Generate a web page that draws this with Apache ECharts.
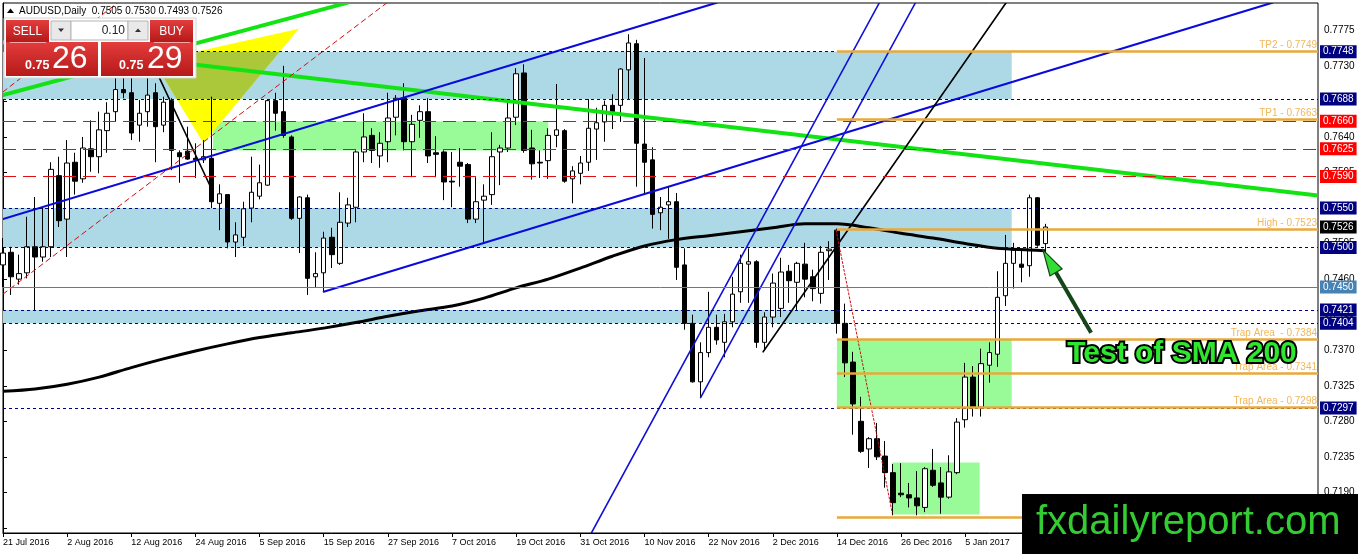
<!DOCTYPE html>
<html>
<head>
<meta charset="utf-8">
<title>AUDUSD Daily</title>
<script src="https://cdn.jsdelivr.net/npm/echarts@6.0.0/dist/echarts.min.js"></script>
<style>
html, body { margin: 0; padding: 0; background: #fff; }
#chart-container { width: 1358px; height: 554px; }
</style>
</head>
<body>
<div id="chart-container"></div>
<script>
const FONT = '"Liberation Sans", Arial, sans-serif';

// one label every 8 daily bars
const tickLabels = ['21 Jul 2016', '2 Aug 2016', '12 Aug 2016', '24 Aug 2016', '5 Sep 2016', '15 Sep 2016',
  '27 Sep 2016', '7 Oct 2016', '19 Oct 2016', '31 Oct 2016', '10 Nov 2016', '22 Nov 2016', '2 Dec 2016',
  '14 Dec 2016', '26 Dec 2016', '5 Jan 2017', '17 Jan 2017'];
const barSlots = 165; // bars + empty space on the right

const opens = [
  0.7478, 0.7494, 0.7460, 0.7468, 0.7501, 0.7488, 0.7501, 0.7591, 0.7536, 0.7608,
  0.7587, 0.7625, 0.7615, 0.7648, 0.7672, 0.7700, 0.7696, 0.7655, 0.7672, 0.7696,
  0.7655, 0.7686, 0.7620, 0.7622, 0.7613, 0.7611, 0.7613, 0.7556, 0.7567, 0.7507,
  0.7513, 0.7550, 0.7565, 0.7579, 0.7686, 0.7672, 0.7640, 0.7537, 0.7563, 0.7463,
  0.7468, 0.7513, 0.7480, 0.7531, 0.7551, 0.7621, 0.7642, 0.7616, 0.7634, 0.7665,
  0.7689, 0.7634, 0.7661, 0.7672, 0.7620, 0.7621, 0.7584, 0.7608, 0.7605, 0.7536,
  0.7560, 0.7567, 0.7621, 0.7626, 0.7665, 0.7721, 0.7626, 0.7608, 0.7610, 0.7642,
  0.7648, 0.7587, 0.7594, 0.7608, 0.7650, 0.7659, 0.7680, 0.7680, 0.7725, 0.7758,
  0.7631, 0.7611, 0.7544, 0.7554, 0.7558, 0.7478, 0.7404, 0.7330, 0.7367, 0.7399,
  0.7380, 0.7406, 0.7444, 0.7479, 0.7482, 0.7380, 0.7412, 0.7423, 0.7470, 0.7456,
  0.7479, 0.7463, 0.7442, 0.7496, 0.7522, 0.7404, 0.7355, 0.7280, 0.7245, 0.7258,
  0.7236, 0.7215, 0.7189, 0.7187, 0.7183, 0.7171, 0.7218, 0.7202, 0.7184, 0.7215,
  0.7282, 0.7336, 0.7298, 0.7351, 0.7365, 0.7439, 0.7480, 0.7479, 0.7477, 0.7563,
  0.7505];
const closes = [
  0.7493, 0.7463, 0.7467, 0.7501, 0.7488, 0.7501, 0.7599, 0.7534, 0.7607, 0.7584,
  0.7626, 0.7615, 0.7649, 0.7670, 0.7700, 0.7696, 0.7645, 0.7670, 0.7693, 0.7653,
  0.7684, 0.7623, 0.7615, 0.7612, 0.7611, 0.7615, 0.7558, 0.7568, 0.7507, 0.7516,
  0.7549, 0.7570, 0.7582, 0.7686, 0.7670, 0.7642, 0.7537, 0.7564, 0.7461, 0.7467,
  0.7512, 0.7491, 0.7532, 0.7554, 0.7621, 0.7640, 0.7623, 0.7632, 0.7664, 0.7689,
  0.7634, 0.7656, 0.7672, 0.7616, 0.7618, 0.7583, 0.7583, 0.7603, 0.7536, 0.7558,
  0.7565, 0.7615, 0.7626, 0.7664, 0.7720, 0.7623, 0.7606, 0.7607, 0.7642, 0.7649,
  0.7584, 0.7597, 0.7607, 0.7651, 0.7658, 0.7680, 0.7672, 0.7726, 0.7759, 0.7632,
  0.7608, 0.7542, 0.7551, 0.7558, 0.7475, 0.7404, 0.7330, 0.7367, 0.7399, 0.7383,
  0.7406, 0.7441, 0.7480, 0.7482, 0.7380, 0.7412, 0.7455, 0.7469, 0.7458, 0.7480,
  0.7460, 0.7448, 0.7494, 0.7498, 0.7404, 0.7354, 0.7302, 0.7242, 0.7258, 0.7235,
  0.7215, 0.7177, 0.7187, 0.7183, 0.7173, 0.7220, 0.7199, 0.7184, 0.7216, 0.7279,
  0.7336, 0.7298, 0.7353, 0.7367, 0.7437, 0.7480, 0.7497, 0.7475, 0.7563, 0.7503,
  0.7526];
const lows = [
  0.7450, 0.7440, 0.7453, 0.7461, 0.7421, 0.7482, 0.7488, 0.7526, 0.7488, 0.7567,
  0.7582, 0.7596, 0.7594, 0.7620, 0.7659, 0.7689, 0.7636, 0.7634, 0.7653, 0.7608,
  0.7646, 0.7598, 0.7582, 0.7611, 0.7588, 0.7607, 0.7550, 0.7522, 0.7499, 0.7488,
  0.7502, 0.7532, 0.7561, 0.7578, 0.7648, 0.7639, 0.7535, 0.7493, 0.7440, 0.7449,
  0.7444, 0.7474, 0.7478, 0.7526, 0.7532, 0.7608, 0.7607, 0.7601, 0.7608, 0.7642,
  0.7623, 0.7589, 0.7639, 0.7607, 0.7589, 0.7560, 0.7551, 0.7577, 0.7531, 0.7531,
  0.7507, 0.7554, 0.7579, 0.7621, 0.7655, 0.7620, 0.7586, 0.7588, 0.7587, 0.7627,
  0.7582, 0.7556, 0.7580, 0.7597, 0.7611, 0.7634, 0.7650, 0.7659, 0.7687, 0.7577,
  0.7569, 0.7524, 0.7522, 0.7511, 0.7459, 0.7396, 0.7329, 0.7310, 0.7361, 0.7377,
  0.7361, 0.7399, 0.7430, 0.7430, 0.7373, 0.7370, 0.7399, 0.7412, 0.7430, 0.7421,
  0.7437, 0.7432, 0.7429, 0.7459, 0.7391, 0.7336, 0.7263, 0.7240, 0.7221, 0.7231,
  0.7196, 0.7161, 0.7184, 0.7171, 0.7161, 0.7165, 0.7197, 0.7163, 0.7182, 0.7213,
  0.7272, 0.7286, 0.7286, 0.7329, 0.7349, 0.7426, 0.7448, 0.7456, 0.7463, 0.7501,
  0.7493];
const highs = [
  0.7512, 0.7501, 0.7491, 0.7539, 0.7564, 0.7550, 0.7608, 0.7615, 0.7636, 0.7620,
  0.7640, 0.7661, 0.7672, 0.7684, 0.7722, 0.7750, 0.7730, 0.7687, 0.7720, 0.7708,
  0.7691, 0.7689, 0.7623, 0.7653, 0.7632, 0.7636, 0.7691, 0.7580, 0.7567, 0.7532,
  0.7558, 0.7615, 0.7605, 0.7687, 0.7696, 0.7730, 0.7642, 0.7565, 0.7567, 0.7494,
  0.7520, 0.7525, 0.7570, 0.7563, 0.7623, 0.7670, 0.7651, 0.7646, 0.7696, 0.7693,
  0.7708, 0.7668, 0.7680, 0.7689, 0.7641, 0.7623, 0.7621, 0.7626, 0.7607, 0.7589,
  0.7580, 0.7646, 0.7630, 0.7683, 0.7727, 0.7732, 0.7649, 0.7623, 0.7651, 0.7707,
  0.7650, 0.7603, 0.7616, 0.7688, 0.7677, 0.7686, 0.7694, 0.7727, 0.7770, 0.7763,
  0.7740, 0.7627, 0.7564, 0.7577, 0.7569, 0.7499, 0.7415, 0.7380, 0.7444, 0.7415,
  0.7416, 0.7463, 0.7491, 0.7499, 0.7484, 0.7418, 0.7467, 0.7487, 0.7478, 0.7482,
  0.7506, 0.7472, 0.7502, 0.7508, 0.7524, 0.7429, 0.7368, 0.7311, 0.7260, 0.7278,
  0.7255, 0.7226, 0.7227, 0.7202, 0.7217, 0.7222, 0.7245, 0.7222, 0.7237, 0.7284,
  0.7354, 0.7350, 0.7372, 0.7380, 0.7470, 0.7516, 0.7506, 0.7496, 0.7567, 0.7564,
  0.7530];

// SMA 200 read every 4 bars
const smaBars = [0, 4, 8, 12, 16, 20, 24, 28, 32, 36, 40, 44, 48, 52, 56, 60, 64, 68, 72, 76,
  80, 84, 88, 92, 96, 100, 104, 108, 112, 116, 120, 124, 128, 130];
const smaValues = [0.7318, 0.7321, 0.7327, 0.7336, 0.7348, 0.7359, 0.7369, 0.7378, 0.7386, 0.7392,
  0.7398, 0.7405, 0.7413, 0.7420, 0.7426, 0.7436, 0.7449, 0.7460, 0.7474, 0.7489,
  0.7502, 0.7510, 0.7515, 0.7520, 0.7525, 0.7530, 0.7530, 0.7525, 0.7518, 0.7512,
  0.7505, 0.7499, 0.7497, 0.7496];

const yTicks = [0.7145, 0.7190, 0.7235, 0.7280, 0.7325, 0.7370, 0.7415, 0.7460, 0.7505, 0.7550,
  0.7595, 0.7640, 0.7685, 0.7730, 0.7775];

// horizontal levels
const redLevels = [0.7660, 0.7625, 0.7590];
const navyLevels = [0.7748, 0.7688, 0.7550, 0.7500, 0.7421, 0.7404, 0.7297];
const steelLevel = 0.7450;
const lastPrice = 0.7526;
const orangeLevels = [0.7749, 0.7663, 0.7523, 0.7384, 0.7341, 0.7298, 0.7158];
const orangeNames = ['TP2 - 0.7749', 'TP1 - 0.7663', 'High - 0.7523', 'Trap Area  - 0.7384',
  'Trap Area - 0.7341', 'Trap Area - 0.7298', ''];
const orangeFrom = 104;

// zones: [barFrom, barTo, priceTop, priceBottom]
const blueZones = [[0, 125.8, 0.7748, 0.7688], [0, 125.8, 0.7550, 0.7500], [0, 104, 0.7421, 0.7404]];
const greenZones = [[26.2, 68, 0.7660, 0.7623], [104, 125.8, 0.7384, 0.7297], [110.9, 121.8, 0.7228, 0.7162]];
const yellowTriangle = [[18.8, 0.7736, 36.9, 0.7777, 25.0, 0.7632]];

// trend lines: [bar1, price1, bar2, price2]
const greenLines = [[0, 0.7693, 43.0, 0.7810], [0, 0.7760, 164, 0.7566]];
const blueLines = [[0, 0.7536, 89.0, 0.7810], [40.0, 0.7444, 158.3, 0.7810]];
const steepBlueLines = [[73.4, 0.7139, 109.3, 0.7810], [87.0, 0.7310, 113.8, 0.7810]];
const blackLines = [[94.8, 0.7368, 125.1, 0.7810], [17.6, 0.7756, 26.2, 0.7570]];
const redDashLines = [[0, 0.7441, 47.9, 0.7810], [0, 0.7697, 14.3, 0.7810]];
const redDotLines = [[103.9, 0.7522, 110.9, 0.7164]];
const arrowLine = [[135.7, 0.7392, 129.7, 0.7497]];

const slots = Array.from({ length: barSlots }, (_, k) => String(k));
const candles = opens.map((o, k) => [o, closes[k], lows[k], highs[k]]);
const labelAt = idx => idx % 8 === 0 && idx / 8 < tickLabels.length;

function zoneSeries(zones, color) {
  return {
    type: 'custom', xAxisIndex: 1, yAxisIndex: 0, z: 1, silent: true, clip: true,
    encode: { x: [0, 1], y: [2, 3] },
    data: zones,
    renderItem: (params, api) => {
      const a = api.coord([api.value(0), api.value(2)]);
      const b = api.coord([api.value(1), api.value(3)]);
      return { type: 'rect', shape: { x: a[0], y: a[1], width: b[0] - a[0], height: b[1] - a[1] }, style: { fill: color } };
    }
  };
}

function segSeries(segs, color, width, dash, z) {
  return {
    type: 'custom', xAxisIndex: 1, yAxisIndex: 0, z: z || 4, silent: true, clip: true,
    encode: { x: [0, 2], y: [1, 3] },
    data: segs,
    renderItem: (params, api) => {
      const a = api.coord([api.value(0), api.value(1)]);
      const b = api.coord([api.value(2), api.value(3)]);
      return {
        type: 'line', shape: { x1: a[0], y1: a[1], x2: b[0], y2: b[1] },
        style: { stroke: color, lineWidth: width, lineDash: dash || null, lineCap: 'round' }
      };
    }
  };
}

// keep only the part of a polygon between two pixel rows
function clipRows(pts, yTop, yBot) {
  const cut = y => (p, q) => [p[0] + (q[0] - p[0]) * (y - p[1]) / (q[1] - p[1]), y];
  const pass = (poly, inside, at) => {
    const out = [];
    for (let k = 0; k < poly.length; k++) {
      const p = poly[k], q = poly[(k + 1) % poly.length];
      if (inside(p)) out.push(p);
      if (inside(p) !== inside(q)) out.push(at(p, q));
    }
    return out;
  };
  return pass(pass(pts, p => p[1] >= yTop, cut(yTop)), p => p[1] <= yBot, cut(yBot));
}

// full width level with a price box on the axis
function level(v, lineStyle, bg) {
  return [
    {
      coord: [0, v], lineStyle: lineStyle,
      label: {
        show: true, position: 'end', distance: 2, formatter: v.toFixed(4),
        backgroundColor: bg, color: '#fff', fontFamily: FONT, fontSize: 10, padding: [2, 3, 1, 3]
      }
    },
    { coord: [barSlots - 1, v] }
  ];
}

const levelLines = [
  ...redLevels.map(v => level(v, { color: '#e01010', type: [13, 7], width: 1 }, '#ff0000')),
  ...navyLevels.map(v => level(v, { color: '#000080', type: [3, 3], width: 1 }, '#000080')),
  level(steelLevel, { color: '#4682b4', type: 'solid', width: 1 }, '#4682b4'),
  level(lastPrice, { color: 'rgba(0,0,0,0)', width: 1 }, '#000000')
];

const orangeLines = orangeLevels.map((v, k) => [
  {
    coord: [orangeFrom, v],
    lineStyle: { color: '#e8a83a', width: 2.5, type: 'solid' },
    label: { show: orangeNames[k] !== '', position: 'insideEndTop', distance: 1, formatter: orangeNames[k], color: '#f2b75a', fontFamily: FONT, fontSize: 10 }
  },
  { coord: [barSlots - 1, v] }
]);

const redGrad = { type: 'linear', x: 0, y: 0, x2: 0, y2: 1, colorStops: [{ offset: 0, color: '#e43c3c' }, { offset: 1, color: '#b51919' }] };

myChart = echarts.init(document.getElementById('chart-container'));

var option = {
  animation: false,
  backgroundColor: '#fff',
  grid: { left: 2, right: 40, top: 3, bottom: 21, show: true, borderColor: '#000', borderWidth: 1, backgroundColor: '#fff' },
  xAxis: [{
    type: 'category', data: slots, boundaryGap: false,
    axisLine: { lineStyle: { color: '#000' } },
    axisTick: { interval: labelAt, length: 4, lineStyle: { color: '#000' } },
    axisLabel: { interval: labelAt, align: 'left', margin: 5, color: '#000', fontFamily: FONT, fontSize: 9,
      formatter: (v, idx) => tickLabels[idx / 8] || '' },
    splitLine: { show: false }
  }, {
    type: 'value', min: 0, max: barSlots - 1, show: false
  }],
  yAxis: {
    type: 'value', position: 'right', min: 0.71386, max: 0.78096, scale: true,
    axisLine: { show: true, lineStyle: { color: '#000' } },
    axisTick: { show: true, length: 4, customValues: yTicks, lineStyle: { color: '#000' } },
    axisLabel: { margin: 6, color: '#000', fontFamily: FONT, fontSize: 10, customValues: yTicks, formatter: v => v.toFixed(4) },
    splitLine: { show: false }
  },
  series: [
    zoneSeries(blueZones, '#add8e6'),
    zoneSeries(greenZones, '#98fb98'),
    {
      type: 'custom', xAxisIndex: 1, yAxisIndex: 0, z: 1, silent: true, clip: true,
      encode: { x: [0, 2, 4], y: [1, 3, 5] },
      data: yellowTriangle,
      renderItem: (params, api) => {
        const pts = [0, 2, 4].map(d => api.coord([api.value(d), api.value(d + 1)]));
        const top = api.coord([0, blueZones[0][2]])[1];
        const bot = api.coord([0, blueZones[0][3]])[1];
        return {
          type: 'group', children: [
            { type: 'polygon', shape: { points: pts }, style: { fill: '#ffff00' } },
            { type: 'polygon', shape: { points: clipRows(pts, top, bot) }, style: { fill: '#aac83a' } }
          ]
        };
      }
    },
    {
      type: 'candlestick', name: 'AUDUSD', xAxisIndex: 0, yAxisIndex: 0, z: 2,
      data: candles, barWidth: 5,
      itemStyle: { color: '#ffffff', color0: '#000000', borderColor: '#000000', borderColor0: '#000000', borderWidth: 1 }
    },
    {
      type: 'line', name: 'SMA 200', xAxisIndex: 1, yAxisIndex: 0, z: 3,
      data: smaBars.map((b, k) => [b, smaValues[k]]),
      showSymbol: false, smooth: 0.3, lineStyle: { color: '#000', width: 3 },
      markLine: { silent: true, symbol: ['none', 'none'], animation: false, precision: 4, data: levelLines.concat(orangeLines) }
    },
    segSeries(greenLines, '#12e312', 4),
    segSeries(blueLines, '#0a0adc', 2),
    segSeries(steepBlueLines, '#1010d8', 1.6),
    segSeries(blackLines, '#000', 1.6),
    segSeries(redDashLines, '#d01010', 1, [5, 4]),
    segSeries(redDotLines, '#d01010', 1, [2, 2]),
    {
      type: 'custom', xAxisIndex: 1, yAxisIndex: 0, z: 6, silent: true,
      encode: { x: [0, 2], y: [1, 3] },
      data: arrowLine,
      renderItem: (params, api) => {
        const tail = api.coord([api.value(0), api.value(1)]);
        const tip = api.coord([api.value(2), api.value(3)]);
        const dx = tip[0] - tail[0], dy = tip[1] - tail[1];
        const len = Math.sqrt(dx * dx + dy * dy);
        const ux = dx / len, uy = dy / len;
        const bx = tip[0] - ux * 26, by = tip[1] - uy * 26;
        return {
          type: 'group', children: [
            { type: 'line', shape: { x1: tail[0], y1: tail[1], x2: bx, y2: by }, style: { stroke: '#17451a', lineWidth: 4 } },
            { type: 'polygon', shape: { points: [tip, [bx - uy * 7, by + ux * 7], [bx + uy * 7, by - ux * 7]] },
              style: { fill: '#33dd33', stroke: '#14401a', lineWidth: 1.2 } }
          ]
        };
      }
    }
  ],
  graphic: [
    { type: 'polygon', z: 100, shape: { points: [[7, 13], [10.5, 8.5], [14, 13]] }, style: { fill: '#000' } },
    { type: 'text', z: 100, style: { text: 'AUDUSD,Daily  0.7505 0.7530 0.7493 0.7526', x: 19, y: 11, verticalAlign: 'middle', fill: '#000', font: '10px ' + FONT } },
    // one-click trading panel
    { type: 'rect', z: 100, shape: { x: 4, y: 18, width: 192, height: 60 }, style: { fill: '#fff', stroke: '#d4d4d4' } },
    { type: 'rect', z: 101, shape: { x: 6, y: 20, width: 43, height: 22 }, style: { fill: redGrad } },
    { type: 'text', z: 102, style: { text: 'SELL', x: 27.5, y: 31.5, align: 'center', verticalAlign: 'middle', fill: '#fff', font: '12px ' + FONT } },
    { type: 'rect', z: 101, shape: { x: 51, y: 21, width: 20, height: 19 }, style: { fill: '#e9e9e9', stroke: '#b5b5b5' } },
    { type: 'polygon', z: 102, shape: { points: [[58, 28.5], [64, 28.5], [61, 32]] }, style: { fill: '#333' } },
    { type: 'rect', z: 101, shape: { x: 71, y: 21, width: 57, height: 19 }, style: { fill: '#fff', stroke: '#b5b5b5' } },
    { type: 'text', z: 102, style: { text: '0.10', x: 125, y: 31, align: 'right', verticalAlign: 'middle', fill: '#222', font: '12px ' + FONT } },
    { type: 'rect', z: 101, shape: { x: 128, y: 21, width: 20, height: 19 }, style: { fill: '#e9e9e9', stroke: '#b5b5b5' } },
    { type: 'polygon', z: 102, shape: { points: [[135, 32], [141, 32], [138, 28.5]] }, style: { fill: '#333' } },
    { type: 'rect', z: 101, shape: { x: 150, y: 20, width: 43, height: 22 }, style: { fill: redGrad } },
    { type: 'text', z: 102, style: { text: 'BUY', x: 171.5, y: 31.5, align: 'center', verticalAlign: 'middle', fill: '#fff', font: '12px ' + FONT } },
    { type: 'rect', z: 101, shape: { x: 6, y: 42, width: 92, height: 34 }, style: { fill: redGrad } },
    { type: 'rect', z: 101, shape: { x: 101, y: 42, width: 92, height: 34 }, style: { fill: redGrad } },
    { type: 'line', z: 102, shape: { x1: 10, y1: 42.5, x2: 46, y2: 42.5 }, style: { stroke: 'rgba(255,255,255,0.55)', lineWidth: 1 } },
    { type: 'line', z: 102, shape: { x1: 154, y1: 42.5, x2: 190, y2: 42.5 }, style: { stroke: 'rgba(255,255,255,0.55)', lineWidth: 1 } },
    { type: 'text', z: 102, style: { text: '0.75', x: 25, y: 65.5, verticalAlign: 'middle', fill: '#fff', font: 'bold 12.5px ' + FONT } },
    { type: 'text', z: 102, style: { text: '26', x: 52, y: 59, verticalAlign: 'middle', fill: '#fff', font: '32px ' + FONT } },
    { type: 'text', z: 102, style: { text: '0.75', x: 119, y: 65.5, verticalAlign: 'middle', fill: '#fff', font: 'bold 12.5px ' + FONT } },
    { type: 'text', z: 102, style: { text: '29', x: 147, y: 59, verticalAlign: 'middle', fill: '#fff', font: '32px ' + FONT } },
    // annotation
    { type: 'text', z: 110, style: { text: 'Test of SMA 200', x: 1182, y: 354, align: 'center', verticalAlign: 'middle',
      fill: '#2ee62e', stroke: '#000', lineWidth: 4, strokeFirst: true, font: 'bold 30px ' + FONT } },
    // watermark
    { type: 'rect', z: 110, shape: { x: 1022, y: 494, width: 336, height: 60 }, style: { fill: '#000' } },
    { type: 'text', z: 111, style: { text: 'fxdailyreport.com', x: 1036, y: 523, verticalAlign: 'middle', fill: '#33cc33', font: '40px ' + FONT } }
  ]
};

myChart.setOption(option);
</script>
</body>
</html>
